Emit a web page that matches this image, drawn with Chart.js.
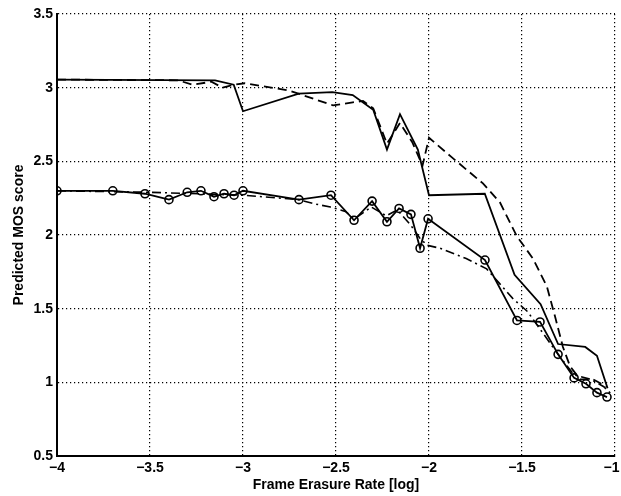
<!DOCTYPE html>
<html>
<head>
<meta charset="utf-8">
<script src="https://cdn.jsdelivr.net/npm/chart.js@4/dist/chart.umd.min.js"></script>
<style>
  html, body { margin: 0; padding: 0; background: #fff; }
  #wrap { width: 621px; height: 496px; position: relative; }
</style>
</head>
<body>
<div id="wrap"><canvas id="c" width="621" height="496"></canvas></div>
<script>
// ---- data ----
const xTicks = [-4, -3.5, -3, -2.5, -2, -1.5, -1];
const yTicks = [0.5, 1, 1.5, 2, 2.5, 3, 3.5];

const topSolidX = [-4.0, -3.15, -3.05, -3.0, -2.7, -2.52, -2.41, -2.30, -2.226, -2.156, -2.06, -2.0, -1.70, -1.54, -1.40, -1.306, -1.16, -1.097, -1.04];
const topSolidY = [3.055, 3.05, 3.02, 2.84, 2.96, 2.97, 2.95, 2.85, 2.58, 2.82, 2.58, 2.27, 2.28, 1.73, 1.53, 1.26, 1.24, 1.18, 0.96];

const topDashX = [-4.0, -3.35, -3.27, -3.17, -3.11, -3.05, -2.99, -2.75, -2.61, -2.516, -2.41, -2.355, -2.30, -2.226, -2.156, -2.09, -2.035, -2.0, -1.88, -1.71, -1.618, -1.527, -1.441, -1.366, -1.323, -1.28, -1.242, -1.188, -1.118, -1.043];
const topDashY = [3.055, 3.05, 3.02, 3.04, 3.0, 3.02, 3.03, 2.98, 2.92, 2.88, 2.90, 2.91, 2.86, 2.62, 2.76, 2.63, 2.47, 2.66, 2.53, 2.35, 2.22, 1.99, 1.84, 1.65, 1.45, 1.24, 1.11, 1.02, 1.02, 0.97];

const circX = [-4.0, -3.70, -3.527, -3.398, -3.30, -3.226, -3.156, -3.102, -3.048, -3.0, -2.699, -2.527, -2.403, -2.306, -2.226, -2.161, -2.097, -2.048, -2.005, -1.699, -1.527, -1.403, -1.306, -1.220, -1.156, -1.097, -1.043];
const circY = [2.30, 2.30, 2.28, 2.24, 2.29, 2.30, 2.26, 2.28, 2.27, 2.30, 2.24, 2.27, 2.10, 2.23, 2.09, 2.18, 2.14, 1.91, 2.11, 1.83, 1.42, 1.41, 1.19, 1.03, 0.99, 0.93, 0.90];

const dashDotX = [-4.0, -3.5, -3.0, -2.7, -2.61, -2.53, -2.45, -2.40, -2.31, -2.23, -2.17, -2.10, -2.05, -2.01, -1.94, -1.80, -1.69, -1.62, -1.55, -1.47, -1.306, -1.22, -1.13, -1.06, -1.02];
const dashDotY = [2.30, 2.29, 2.27, 2.24, 2.21, 2.19, 2.16, 2.11, 2.19, 2.13, 2.17, 2.07, 1.98, 1.93, 1.91, 1.84, 1.77, 1.67, 1.57, 1.48, 1.19, 1.05, 1.02, 0.97, 0.92];

const xTitle = 'Frame Erasure Rate [log]';
const yTitle = 'Predicted MOS score';

function pts(xs, ys) { return xs.map((x, i) => ({ x: x, y: ys[i] })); }
function fmt(v) { return String(v).replace('-', '\u2212'); }

const FONT = "'Liberation Sans', Arial, Helvetica, sans-serif";

new Chart(document.getElementById('c'), {
  type: 'scatter',
  data: {
    datasets: [
      { data: pts(topSolidX, topSolidY), showLine: true, borderColor: '#000', borderWidth: 1.8, pointRadius: 0, fill: false },
      { data: pts(topDashX, topDashY), showLine: true, borderColor: '#000', borderWidth: 1.8, borderDash: [9, 5], pointRadius: 0, fill: false },
      { data: pts(dashDotX, dashDotY), showLine: true, borderColor: '#000', borderWidth: 1.6, borderDash: [9, 4, 2, 4], pointRadius: 0, fill: false },
      { data: pts(circX, circY), showLine: true, borderColor: '#000', borderWidth: 1.8, pointRadius: 4, pointBorderWidth: 1.6, pointBorderColor: '#000', pointBackgroundColor: 'rgba(0,0,0,0)', pointStyle: 'circle', fill: false }
    ]
  },
  options: {
    responsive: false,
    animation: false,
    devicePixelRatio: 1,
    layout: { padding: { left: 0, right: 6, top: 14, bottom: 0 } },
    plugins: { legend: { display: false }, tooltip: { enabled: false } },
    scales: {
      x: {
        type: 'linear', min: -4, max: -1,
        afterBuildTicks: (s) => { s.ticks = xTicks.map(v => ({ value: v })); },
        afterFit: (s) => { s.height = 40; s.paddingLeft = 0; s.paddingRight = 0; },
        grid: { color: '#000', lineWidth: 1.2, drawTicks: false },
        border: { display: true, color: '#000', width: 2, dash: [1.2, 2.8] },
        ticks: { color: '#000', font: { family: FONT, size: 14, weight: 'bold' }, padding: 4, maxRotation: 0, autoSkip: false,
                 callback: (v, i, arr) => fmt(v) + (i === arr.length - 1 ? '\u2002' : '') },
        title: { display: true, text: xTitle, color: '#000', font: { family: FONT, size: 14, weight: 'bold' }, padding: { top: 0, bottom: 2 } }
      },
      y: {
        type: 'linear', min: 0.5, max: 3.5,
        afterBuildTicks: (s) => { s.ticks = yTicks.map(v => ({ value: v })); },
        afterFit: (s) => { s.width = 57; s.paddingTop = 0; s.paddingBottom = 0; },
        grid: { color: '#000', lineWidth: 1.2, drawTicks: false },
        border: { display: true, color: '#000', width: 2, dash: [1.2, 2.8] },
        ticks: { color: '#000', font: { family: FONT, size: 14, weight: 'bold' }, padding: 4, autoSkip: false,
                 callback: (v) => fmt(v) },
        title: { display: true, text: yTitle, color: '#000', font: { family: FONT, size: 14, weight: 'bold' }, padding: { top: 11, bottom: 0 } }
      }
    }
  }
});
</script>
</body>
</html>
